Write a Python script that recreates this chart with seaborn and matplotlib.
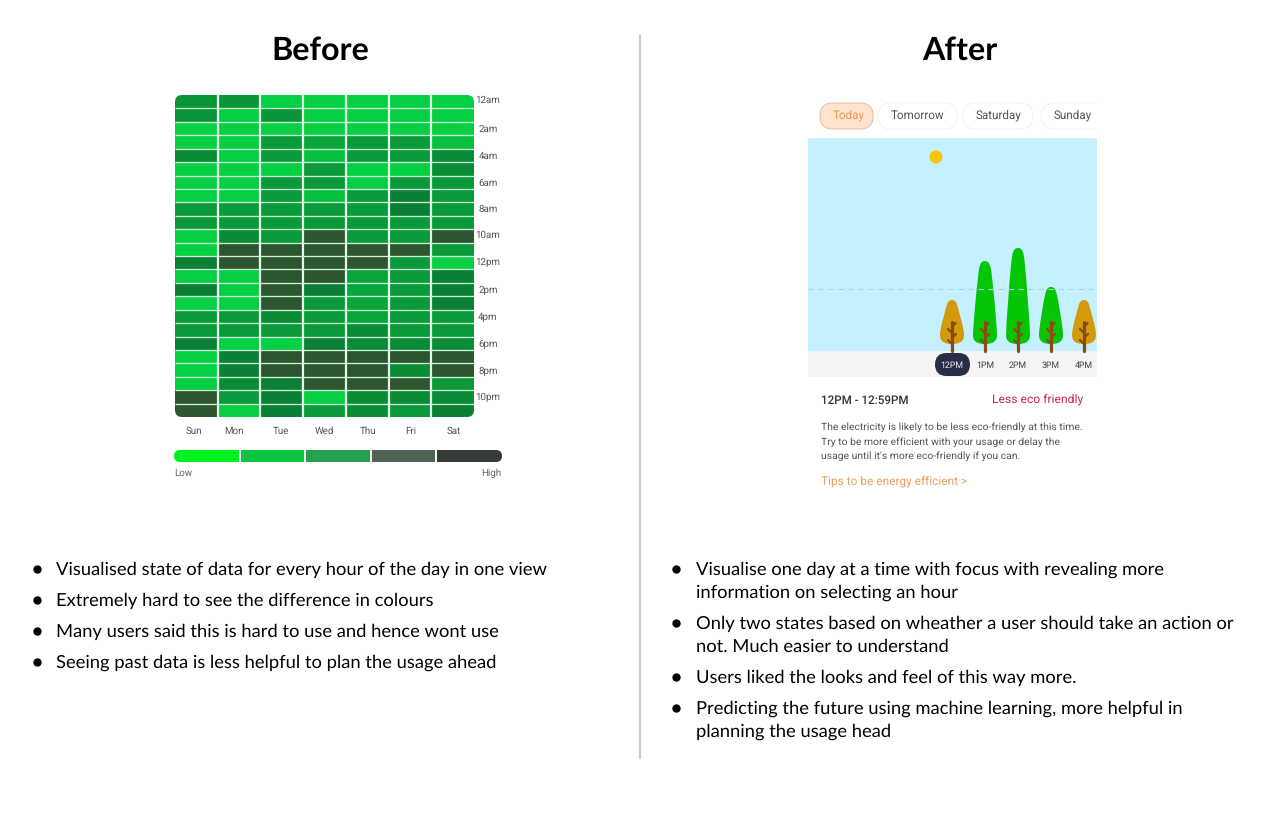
import matplotlib as mpl
mpl.use('Agg')
import matplotlib.pyplot as plt
import matplotlib.patches as patches
from matplotlib.colors import LinearSegmentedColormap, ListedColormap
from matplotlib.path import Path
import numpy as np
import pandas as pd
import seaborn as sns

sns.set_style("white")
plt.rcParams['font.family'] = ['Lato', 'DejaVu Sans']
plt.rcParams['text.hinting'] = 'none'

days = ['Sun', 'Mon', 'Tue', 'Wed', 'Thu', 'Fri', 'Sat']
sun = [3.2, 3.2, 1, 1, 3.5, 1, 1, 1, 3, 3, 1, 1, 4, 1, 4, 1, 3, 3, 4, 1, 1, 1, 5, 5]
mon = [3.2, 1, 1, 1, 1, 1, 1, 1, 3, 3, 3.5, 5, 5, 1, 1, 1, 3, 3, 1, 4, 4, 3.5, 3, 1]
tue = [1, 3.2, 1, 3, 3, 1, 3, 3, 3, 3, 3, 5, 5, 5, 5, 5, 3.5, 3, 1, 5, 5, 4, 4, 4]
wed = [1, 1, 1, 2.5, 1.5, 3, 3, 1.5, 3, 3, 5, 5, 5, 5, 4, 3, 3, 3, 4, 5, 5, 5, 1, 3]
thu = [1, 1, 1, 3, 3, 1, 1, 3, 3, 3, 3, 5, 5, 2.5, 2.5, 2.5, 2.5, 3.5, 3.5, 5, 5, 5, 3.5, 3.5]
fri = [1, 1, 1, 3, 3, 1, 3, 4, 4, 3, 3, 5, 3, 3, 3, 3, 3, 3, 3.5, 5, 3.5, 5, 3.5, 3]
sat = [1, 1, 1, 1.5, 3.5, 3.5, 3, 3, 3, 3, 5, 3, 1, 4, 4, 4, 3, 3, 3.5, 5, 5, 3, 3.5, 4]

hour_labels = ['12am', '2am', '4am', '6am', '8am', '10am', '12pm', '2pm', '4pm', '6pm', '8pm', '10pm']
legend_colors = ['#00f020', '#0bc540', '#26a04c', '#4f6455', '#353a36']

tabs = ['Today', 'Tomorrow', 'Saturday', 'Sunday']
tree_hours = ['12PM', '1PM', '2PM', '3PM', '4PM']
tree_tops = [51, 90, 103, 64, 51]
tree_eco = [False, True, True, True, False]

before_notes = [
    'Visualised state of data for every hour of the day in one view',
    'Extremely hard to see the difference in colours',
    'Many users said this is hard to use and hence wont use',
    'Seeing past data is less helpful to plan the usage ahead',
]
after_notes = [
    ['Visualise one day at a time with focus with revealing more', 'information on selecting an hour'],
    ['Only two states based on wheather a user should take an action or', 'not. Much easier to understand'],
    ['Users liked the looks and feel of this way more.'],
    ['Predicting the future using machine learning, more helpful in', 'planning the usage head'],
]
detail_lines = [
    'The electricity is likely to be less eco-friendly at this time.',
    'Try to be more efficient with your usage or delay the',
    "usage until it's more eco-friendly if you can.",
]

W, H = 1280, 815
fig = plt.figure(figsize=(W / 100, H / 100), dpi=100, facecolor='w')


def AddPixelAxes(x0, y0, x1, y1):
    return fig.add_axes([x0 / W, 1 - y1 / H, (x1 - x0) / W, (y1 - y0) / H])


def RoundClip(ax, mesh, pad):
    box = patches.FancyBboxPatch((0, 0), 1, 1, boxstyle='round,pad=0,rounding_size={}'.format(pad),
                                 mutation_aspect=ax.bbox.width / ax.bbox.height,
                                 transform=ax.transAxes, fc='none', ec='none')
    ax.add_patch(box)
    mesh.set_clip_path(box)


# heatmap, grid lines drawn apart because rows and columns use different gaps
df = pd.DataFrame(dict(zip(days, [sun, mon, tue, wed, thu, fri, sat])))
cmap = LinearSegmentedColormap.from_list('eco', [(0, '#05cf42'), (0.25, '#08b23d'), (0.5, '#0a9a3a'),
                                                 (0.75, '#0a7f35'), (1, '#2c5530')])
axHeat = AddPixelAxes(175, 95, 474, 417)
sns.heatmap(df, ax=axHeat, cmap=cmap, vmin=1, vmax=5, cbar=False, linewidths=0,
            xticklabels=False, yticklabels=False)
axHeat.hlines(np.arange(1, len(sun)), 0, len(days), color='#c9f5d6', lw=0.95)
axHeat.vlines(np.arange(1, len(days)), 0, len(sun), color='#e6fbec', lw=1.6)
RoundClip(axHeat, axHeat.collections[0], 0.025)

# legend strip
axLegend = AddPixelAxes(174, 450, 502, 462)
sns.heatmap(np.arange(5).reshape(1, 5), ax=axLegend, cmap=ListedColormap(legend_colors), cbar=False,
            linewidths=0, xticklabels=False, yticklabels=False)
axLegend.vlines(np.arange(1, 5), 0, 1, color='w', lw=1.4)
RoundClip(axLegend, axLegend.collections[0], 0.018)

# everything else sits on an overlay in pixel coordinates
ax = fig.add_axes([0, 0, 1, 1], zorder=3)
ax.set_xlim(0, W)
ax.set_ylim(H, 0)
ax.axis('off')
ax.patch.set_alpha(0)

ax.text(320, 51, 'Before', ha='center', va='center', fontsize=23.2, fontweight='bold', color='k')
ax.text(960, 51, 'After', ha='center', va='center', fontsize=23.2, fontweight='bold', color='k')
ax.plot([640, 640], [35, 758], color='#c9c9c9', lw=1.6)

for lab, y in zip(hour_labels, [100, 129, 156, 183, 209, 235, 262, 290, 317, 344, 371, 397]):
    ax.text(488, y, lab, ha='center', va='center', fontsize=7, color='#555555', family='Roboto')
for lab, x in zip(days, [194, 234, 281, 324, 368, 411, 454]):
    ax.text(x, 431, lab, ha='center', va='center', fontsize=7, color='#555555', family='Roboto')
ax.text(174, 473, 'Low', ha='left', va='center', fontsize=7, color='#666666', family='Roboto')
ax.text(501, 473, 'High', ha='right', va='center', fontsize=7, color='#666666', family='Roboto')

# bullets
for note, y in zip(before_notes, [569, 600, 631, 662]):
    ax.text(56, y + 5.5, note, ha='left', va='baseline', fontsize=13.25, color='k')
    ax.plot(37, y, 'o', ms=5, color='k')
y = 569
for note in after_notes:
    ax.plot(676, y, 'o', ms=5, color='k')
    for line in note:
        ax.text(696, y + 5.5, line, ha='left', va='baseline', fontsize=13.25, color='k')
        y += 23
    y += 8

# app mock
ax.add_patch(patches.Rectangle((808, 138), 289, 213, fc='#c5f0ff', ec='none'))
ax.add_patch(patches.Rectangle((808, 351), 289, 26, fc='#f4f4f4', ec='none'))
ax.add_patch(patches.Ellipse((936, 157), 13, 13, fc='#fcc30b', ec='none'))
ax.plot([808, 1097], [289, 289], color='#b4cfdb', lw=0.8, ls=(0, (5, 4)))

tab_x = [(820, 873), (878, 957), (963, 1033), (1041, 1110)]
tab_clip = patches.Rectangle((800, 95), 297, 40, transform=ax.transData)
for i, (lab, (x0, x1)) in enumerate(zip(tabs, tab_x)):
    today = i == 0
    pill = patches.FancyBboxPatch((x0, 103), x1 - x0, 26, boxstyle='round,pad=0,rounding_size=13',
                                  fc='#fde3d0' if today else 'w', ec='#efba94' if today else '#f2f2f2', lw=0.7)
    ax.add_patch(pill)
    pill.set_clip_path(tab_clip)
    cx = 849 if today else (x0 + x1) / 2
    if i == 3:
        cx = 1073
    ax.text(cx, 115.5, lab, ha='center', va='center', fontsize=8.4, family='Roboto',
            color='#ea9a55' if today else '#555555')


def DrawTree(cx, height, eco):
    base = 351
    top = base - height
    bot = base - 7
    w, t = 12, 5.5
    verts = [(cx, bot), (cx - w * 0.7, bot), (cx - w, bot - 3), (cx - w, bot - 9),
             (cx - w, bot - 16), (cx - t - 2, top + 14), (cx - t, top + 6),
             (cx - t + 1, top + 2), (cx - 3, top), (cx, top),
             (cx + 3, top), (cx + t - 1, top + 2), (cx + t, top + 6),
             (cx + t + 2, top + 14), (cx + w, bot - 16), (cx + w, bot - 9),
             (cx + w, bot - 3), (cx + w * 0.7, bot), (cx, bot)]
    codes = [Path.MOVETO] + [Path.CURVE4] * 18
    ax.add_patch(patches.PathPatch(Path(verts, codes), fc='#06c406' if eco else '#d39a0b', ec='none'))
    trunk = '#8a4a10'
    ax.plot([cx, cx], [base, base - 29], color=trunk, lw=2.3, solid_capstyle='round')
    for dy, dx in [(-7, -4), (-13, 4), (-18, -4), (-24, 3.5)]:
        ax.plot([cx, cx + dx], [base + dy, base + dy - 4], color=trunk, lw=1.6, solid_capstyle='round')


for i, (lab, h, eco) in enumerate(zip(tree_hours, tree_tops, tree_eco)):
    cx = 952 + 33 * i
    DrawTree(cx, h, eco)
    if i == 0:
        ax.add_patch(patches.FancyBboxPatch((935, 353), 35, 23, boxstyle='round,pad=0,rounding_size=11.5',
                                            fc='#2a2d4a', ec='none'))
    ax.text(cx, 364.5, lab, ha='center', va='center_baseline', fontsize=6.3, family='Roboto',
            color='#e8e8ee' if i == 0 else '#444444')

ax.text(821, 400.5, '12PM - 12:59PM', ha='left', va='center', fontsize=8.35, family='Roboto',
        fontweight='medium', color='#333333')
ax.text(1083, 399, 'Less eco friendly', ha='right', va='center', fontsize=8.7, family='Roboto', color='#cc2a48')
for line, y in zip(detail_lines, [427.5, 442, 456.5]):
    ax.text(821, y, line, ha='left', va='center', fontsize=7.45, family='Roboto', color='#555555')
ax.text(821, 481.5, 'Tips to be energy efficient >', ha='left', va='center', fontsize=8.6,
        family='Roboto', color='#e9a25f')

plt.savefig('out.png', dpi=100)
